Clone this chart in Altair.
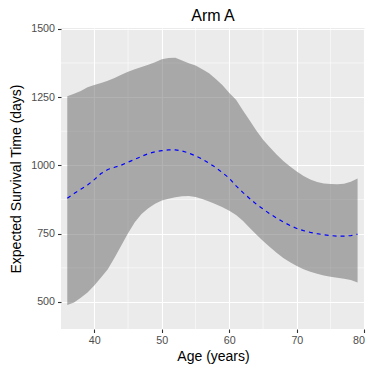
import altair as alt
import pandas as pd

ages = list(range(36, 80))
upper = [1253, 1262, 1272, 1286, 1294, 1302, 1310, 1320, 1332, 1343,
         1352, 1360, 1368, 1378, 1389, 1393, 1394, 1384, 1374, 1366,
         1352, 1337, 1316, 1293, 1265, 1240, 1202, 1165, 1128, 1094,
         1066, 1040, 1016, 996, 978, 961, 948, 939, 934, 932,
         931, 933, 940, 952]
lower = [489, 498, 515, 535, 560, 590, 620, 662, 707, 752,
         792, 822, 843, 860, 871, 878, 883, 887, 888, 884,
         877, 868, 858, 847, 834, 818, 797, 772, 747, 723,
         701, 680, 661, 645, 632, 620, 611, 603, 597, 592,
         589, 585, 580, 571]
mean = [880, 897, 913, 928, 948, 970, 985, 993, 1001, 1012,
        1022, 1033, 1043, 1050, 1054, 1057, 1057, 1053, 1045, 1035,
        1023, 1008, 992, 973, 953, 925, 901, 879, 858, 840,
        823, 807, 793, 780, 769, 761, 755, 750, 746, 743,
        741, 741, 743, 748]

x_ticks = [40, 50, 60, 70, 80]
y_ticks = [500, 750, 1000, 1250, 1500]
x_minor = [45, 55, 65, 75]
y_minor = [625, 875, 1125, 1375]

df = pd.DataFrame({"age": ages, "upper": upper, "lower": lower, "mean": mean})

xs = alt.Scale(domain=[35.07, 80.1], nice=False, zero=False)
ys = alt.Scale(domain=[401, 1503], nice=False, zero=False)

xaxis = alt.Axis(values=x_ticks, title="Age (years)", grid=True, format="d")
yaxis = alt.Axis(values=y_ticks, title="Expected Survival Time (days)", grid=True, format="d")

minor_x = alt.Chart(pd.DataFrame({"v": x_minor})).mark_rule(color="white", strokeWidth=0.55).encode(
    x=alt.X("v:Q", scale=xs, axis=xaxis))
minor_y = alt.Chart(pd.DataFrame({"v": y_minor})).mark_rule(color="white", strokeWidth=0.55).encode(
    y=alt.Y("v:Q", scale=ys, axis=yaxis))

band = alt.Chart(df).mark_area(color="#666666", opacity=0.5, interpolate="linear").encode(
    x=alt.X("age:Q", scale=xs, axis=xaxis),
    y=alt.Y("upper:Q", scale=ys, axis=yaxis),
    y2="lower:Q",
)

line = alt.Chart(df).mark_line(color="#0000FF", strokeWidth=1.2, strokeDash=[4, 4]).encode(
    x=alt.X("age:Q", scale=xs, axis=xaxis),
    y=alt.Y("mean:Q", scale=ys, axis=yaxis),
)

chart = alt.layer(minor_x, minor_y, band, line).properties(
    width=304,
    height=301,
    background="white",
    title=alt.TitleParams("Arm A", anchor="middle", fontSize=16, font="Liberation Sans",
                          fontWeight="normal", color="black", offset=-1.5, frame="group"),
    autosize=alt.AutoSizeParams(type="none"),
    padding={"left": 53, "top": 20, "right": 1, "bottom": 36},
).configure_view(
    fill="#EBEBEB", stroke=None
).configure_axis(
    domain=False,
    gridColor="white",
    gridWidth=1.1,
    tickColor="#333333",
    tickSize=3.5,
    tickWidth=1.1,
    labelColor="#4D4D4D",
    labelFont="Liberation Sans",
    labelFontSize=10.7,
    labelPadding=3,
    titleFont="Liberation Sans",
    titleFontSize=14,
    titleFontWeight="normal",
    titleColor="black",
).configure_axisY(
    titlePadding=7
).configure_axisX(
    titlePadding=4
)

chart.save("out.html", embed_options={"renderer": "svg", "actions": False})
